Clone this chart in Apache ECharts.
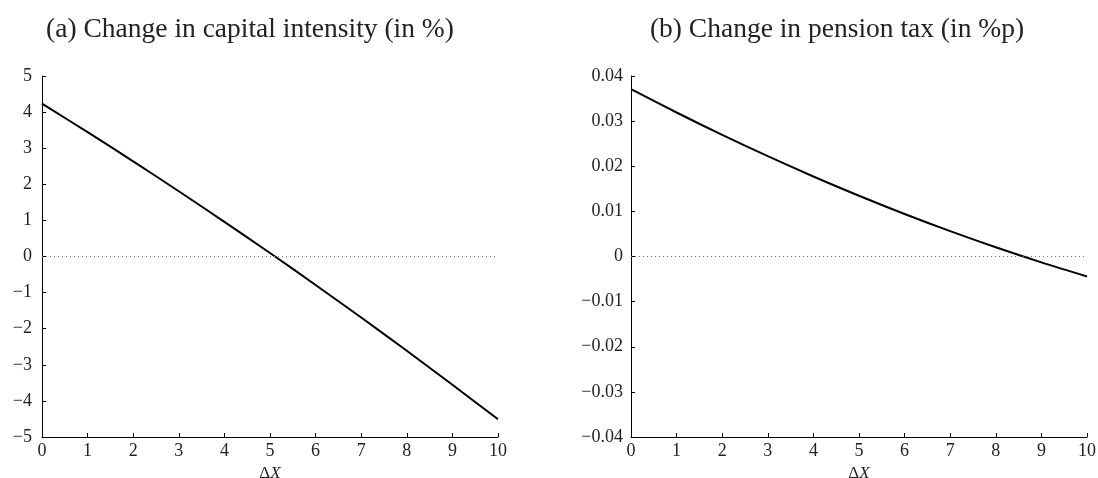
<!DOCTYPE html>
<html>
<head>
<meta charset="utf-8">
<script src="https://cdn.jsdelivr.net/npm/echarts@6/dist/echarts.min.js"></script>
<style>html,body{margin:0;padding:0;background:#fff}#c{width:1098px;height:478px}</style>
</head>
<body>
<div id="c"></div>
<script>
var xValues = [0, 1, 2, 3, 4, 5, 6, 7, 8, 9, 10];
var capitalIntensity = [4.235, 3.445, 2.636, 1.808, 0.961, 0.096, -0.788, -1.691, -2.612, -3.552, -4.51];
var pensionTax = [0.0371, 0.03191, 0.02695, 0.02223, 0.01773, 0.01346, 0.00942, 0.00562, 0.00204, -0.00131, -0.00442];
var titleA = '(a) Change in capital intensity (in %)';
var titleB = '(b) Change in pension tax (in %p)';

var FONT = '"Liberation Serif", "DejaVu Serif", serif';
function minus(s) { return String(s).replace('-', '\u2212'); }
function pairs(ys) { return xValues.map(function (x, i) { return [x, ys[i]]; }); }

function xAxis(idx) {
  return {
    type: 'value', gridIndex: idx, min: 0, max: 10, interval: 1,
    axisLine: { onZero: false, lineStyle: { color: '#000', width: 1 } },
    axisTick: { inside: true, length: 4, lineStyle: { color: '#000' } },
    axisLabel: { color: '#222', fontFamily: FONT, fontSize: 18, margin: 5 },
    splitLine: { show: false },
    name: '{d|\u0394}{x|X}', nameLocation: 'middle', nameGap: 16,
    nameTextStyle: { rich: { d: { fontFamily: FONT, fontSize: 17, color: '#222' }, x: { fontFamily: FONT, fontSize: 17, fontStyle: 'italic', color: '#222' } } }
  };
}
function yAxis(idx, min, max, interval, fmt, margin) {
  return {
    type: 'value', gridIndex: idx, min: min, max: max, interval: interval,
    axisLine: { show: true, onZero: false, lineStyle: { color: '#000', width: 1 } },
    axisTick: { show: true, inside: true, length: 4, lineStyle: { color: '#000' } },
    axisLabel: { color: '#222', fontFamily: FONT, fontSize: 18, margin: margin, formatter: fmt },
    splitLine: { show: false }
  };
}
function zeroLine() {
  return {
    silent: true, symbol: 'none', label: { show: false },
    lineStyle: { type: [1, 3], color: '#777', width: 1 },
    data: [{ yAxis: 0 }]
  };
}

var chart = echarts.init(document.getElementById('c'), null, { renderer: 'canvas' });
chart.setOption({
  animation: false,
  backgroundColor: '#fff',
  title: [
    { text: titleA, left: 245, top: 11, textAlign: 'center', textStyle: { fontFamily: FONT, fontSize: 27.5, fontWeight: 'normal', color: '#222' } },
    { text: titleB, left: 832, top: 11, textAlign: 'center', textStyle: { fontFamily: FONT, fontSize: 27.5, fontWeight: 'normal', color: '#222' } }
  ],
  grid: [
    { left: 42, top: 76, width: 456, height: 361, outerBoundsMode: 'none', containLabel: false },
    { left: 631, top: 76, width: 456, height: 361, outerBoundsMode: 'none', containLabel: false }
  ],
  xAxis: [xAxis(0), xAxis(1)],
  yAxis: [
    yAxis(0, -5, 5, 1, function (v) { return minus(v); }, 10),
    yAxis(1, -0.04, 0.04, 0.01, function (v) { return v === 0 ? '0' : minus(v.toFixed(2)); }, 8)
  ],
  series: [
    { type: 'line', xAxisIndex: 0, yAxisIndex: 0, data: pairs(capitalIntensity), smooth: 0.3, showSymbol: false, lineStyle: { color: '#000', width: 2 }, markLine: zeroLine(), z: 3 },
    { type: 'line', xAxisIndex: 1, yAxisIndex: 1, data: pairs(pensionTax), smooth: 0.3, showSymbol: false, lineStyle: { color: '#000', width: 2 }, markLine: zeroLine(), z: 3 }
  ]
});
</script>
</body>
</html>
